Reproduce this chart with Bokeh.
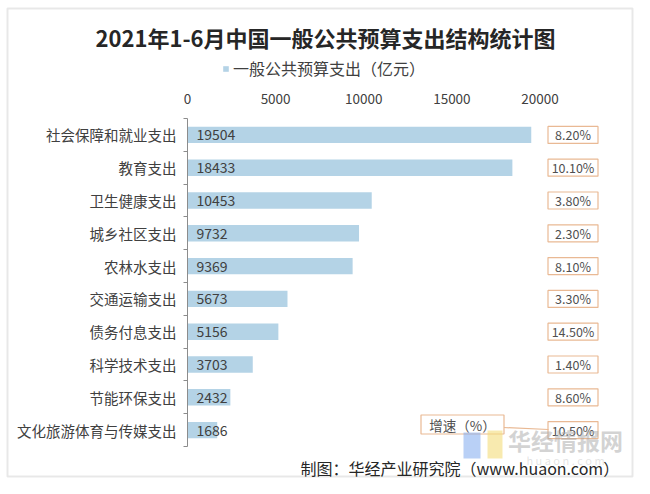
from bokeh.plotting import figure
from bokeh.models import (Range1d, LinearAxis, FixedTicker, Label, BoxAnnotation,
                          Legend, LegendItem, ColumnDataSource)
from bokeh.core.properties import value
from bokeh.embed import file_html
from bokeh.resources import INLINE

# ---- data ----
categories = ["社会保障和就业支出", "教育支出", "卫生健康支出", "城乡社区支出", "农林水支出",
              "交通运输支出", "债务付息支出", "科学技术支出", "节能环保支出", "文化旅游体育与传媒支出"]
spending = [19504, 18433, 10453, 9732, 9369, 5673, 5156, 3703, 2432, 1686]
growth = ["8.20%", "10.10%", "3.80%", "2.30%", "8.10%", "3.30%", "14.50%", "1.40%", "8.60%", "10.50%"]
x_ticks = [0, 5000, 10000, 15000, 20000]

title_text = "2021年1-6月中国一般公共预算支出结构统计图"
series_name = "一般公共预算支出（亿元）"
growth_name = "增速（%）"
source_text = "制图：华经产业研究院（www.huaon.com）"

FONT = "Noto Sans CJK SC"
BAR = "#b4d3e6"
BOXC = "#e9b994"
TXT = "#404040"

W, H = 634, 478
X0, PX_PER = 187, 352.5 / 20000.0    # pixel of value 0, pixels per unit
Y0, ROW = 118, 32.8                   # pixel of top edge of the first row, pixels per row


def dx(px):   # canvas x pixel -> data x
    return (px - X0) / PX_PER


def dy(py):   # canvas y pixel (from top) -> data y (row units)
    return -0.5 + (py - Y0) / ROW


n = len(categories)
rows = list(range(n))
gx = dx(572.5)
src = ColumnDataSource(dict(y=rows, v=spending, lab=[str(s) for s in spending],
                            g=growth, gx=[gx] * n))

p = figure(width=W, height=H, output_backend="svg", toolbar_location=None,
           x_range=Range1d(dx(0), dx(W)), y_range=Range1d(dy(H), dy(0)),
           x_axis_location=None, y_axis_location=None,
           min_border=0, min_border_left=0, min_border_right=0,
           min_border_top=0, min_border_bottom=0)
p.outline_line_color = None
p.xgrid.visible = False
p.ygrid.visible = False
p.background_fill_color = "white"
p.border_fill_color = "white"

# outer frame of the chart
p.add_layout(BoxAnnotation(left=dx(7), right=dx(632), top=dy(8), bottom=dy(476),
                           fill_alpha=0, line_color="#b3b3b3", line_width=2, level="underlay"))

bars = p.hbar(y="y", right="v", left=0, height=0.5, source=src, fill_color=BAR, line_color=None)

p.text(x=0, y="y", text="lab", source=src, x_offset=9, text_baseline="middle",
       text_font=value(FONT), text_font_size="14px", text_color=TXT)

# growth-rate boxes
p.rect(x="gx", y="y", width=50, height=17, width_units="screen", height_units="screen",
       source=src, fill_color="white", line_color=BOXC, line_width=1.2)
p.text(x="gx", y="y", text="g", source=src, text_align="center", text_baseline="middle",
       text_font=value(FONT), text_font_size="12.5px", text_color="#505050")

# watermark (behind the callout)
p.add_layout(BoxAnnotation(left=dx(463), right=dx(480), top=dy(432), bottom=dy(458),
                           fill_color="#7fa9ee", fill_alpha=0.55, line_color=None))
p.add_layout(BoxAnnotation(left=dx(487), right=dx(502), top=dy(430), bottom=dy(458),
                           fill_color="#f3dc7a", fill_alpha=0.6, line_color=None))
p.add_layout(Label(x=dx(565), y=dy(439), text="华经情报网", text_align="center",
                   text_baseline="middle", text_font=FONT, text_font_size="23px",
                   text_font_style="bold", text_color="#a8a8a8", text_alpha=0.5))
p.add_layout(Label(x=dx(565), y=dy(459), text="h u a o n . c o m", text_align="center",
                   text_baseline="middle", text_font=FONT, text_font_size="11px",
                   text_color="#b0b0b0", text_alpha=0.35))

# "增速（%）" callout
p.segment(x0=[dx(503)], y0=[dy(427)], x1=[dx(548)], y1=[dy(429)], line_color=BOXC, line_width=1.2)
p.rect(x=[dx(462)], y=[dy(424)], width=83, height=19, width_units="screen", height_units="screen",
       fill_color="white", line_color=BOXC, line_width=1.2)
p.text(x=[dx(462)], y=[dy(424)], text=[growth_name], text_align="center", text_baseline="middle",
       text_font=value(FONT), text_font_size="13.5px", text_color="#505050")

# axes placed at fixed data positions
xa = LinearAxis(fixed_location=-0.5, bounds=(0, 20000))
xa.ticker = FixedTicker(ticks=x_ticks)
xa.axis_line_color = None
xa.major_tick_line_color = None
xa.minor_tick_line_color = None
xa.major_label_text_font = FONT
xa.major_label_text_font_size = "13.5px"
xa.major_label_text_color = TXT
xa.major_label_standoff = 9
p.add_layout(xa, "above")

ya = LinearAxis(fixed_location=0, bounds=(-0.5, n - 0.5))
ya.ticker = FixedTicker(ticks=rows, minor_ticks=[r - 0.5 for r in rows] + [n - 0.5])
ya.major_label_overrides = {r: c for r, c in zip(rows, categories)}
ya.axis_line_color = "#8c8c8c"
ya.major_tick_line_color = None
ya.major_tick_out = 0
ya.major_tick_in = 0
ya.minor_tick_line_color = "#8c8c8c"
ya.minor_tick_out = 4
ya.minor_tick_in = 0
ya.major_label_text_font = FONT
ya.major_label_text_font_size = "14.5px"
ya.major_label_text_color = TXT
ya.major_label_standoff = 7
p.add_layout(ya, "left")

# legend
legend = Legend(items=[LegendItem(label=series_name, renderers=[bars])],
                location=(222, H - 80), orientation="horizontal",
                border_line_color=None, background_fill_alpha=0,
                padding=0, margin=0, glyph_width=7, glyph_height=7, label_standoff=4,
                label_text_font=FONT, label_text_font_size="16px", label_text_color=TXT)
p.add_layout(legend, "center")

# title
p.add_layout(Label(x=dx(325), y=dy(36), text=title_text, text_align="center", text_baseline="middle",
                   text_font=FONT, text_font_size="22px", text_font_style="bold",
                   text_color="#262626"))
# source
p.add_layout(Label(x=dx(300), y=dy(467), text=source_text, text_align="left", text_baseline="middle",
                   text_font=FONT, text_font_size="16px", text_color="#262626"))

open("out.html", "w").write(file_html(p, INLINE))
